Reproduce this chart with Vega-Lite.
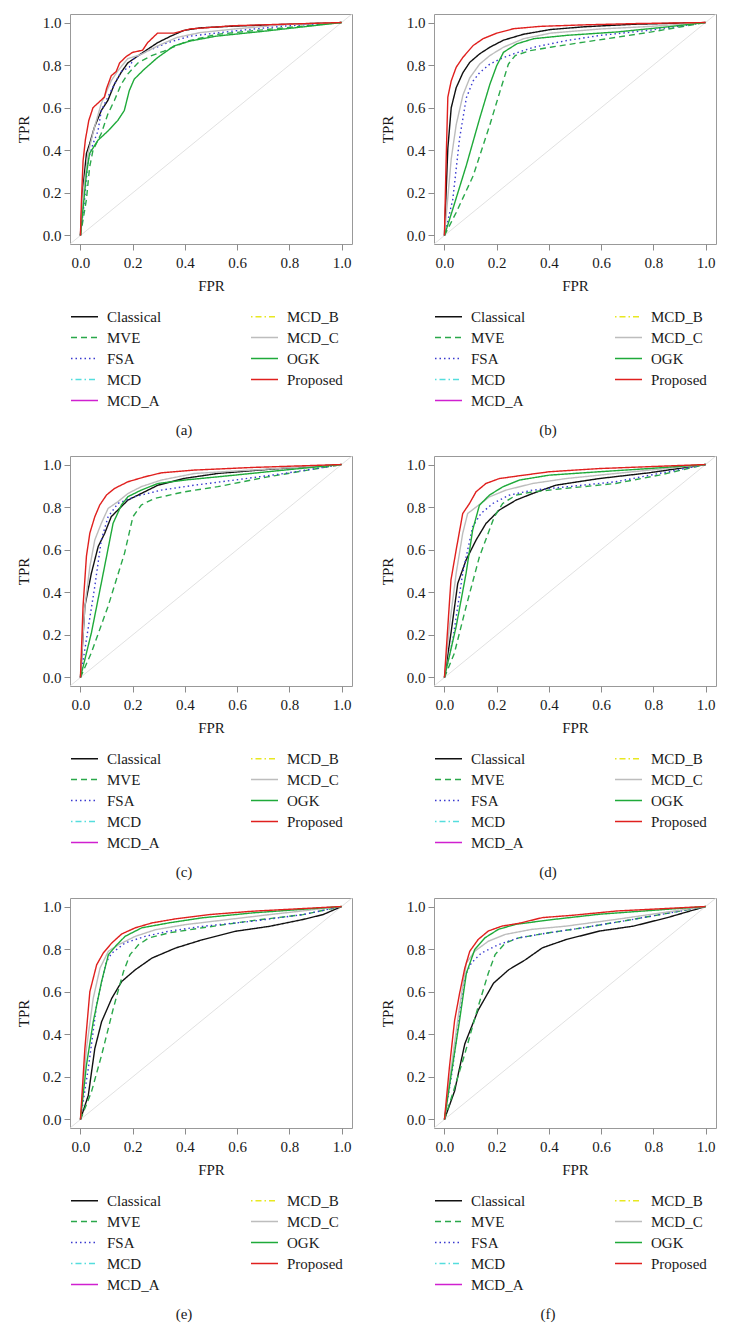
{
"$schema": "https://vega.github.io/schema/vega-lite/v6.json",
"padding": {"left": 15, "top": 13, "right": 5, "bottom": 5},
"background": "white",
"datasets": {
"diag": [{"fpr": -0.1, "tpr": -0.1}, {"fpr": 1.1, "tpr": 1.1}],
"a": [
{"method":"Classical","fpr":0,"tpr":0},{"method":"Classical","fpr":0.008,"tpr":0.2},{"method":"Classical","fpr":0.023,"tpr":0.385},{"method":"Classical","fpr":0.035,"tpr":0.43},{"method":"Classical","fpr":0.054,"tpr":0.51},{"method":"Classical","fpr":0.08,"tpr":0.587},{"method":"Classical","fpr":0.105,"tpr":0.634},{"method":"Classical","fpr":0.13,"tpr":0.71},{"method":"Classical","fpr":0.156,"tpr":0.766},{"method":"Classical","fpr":0.181,"tpr":0.81},{"method":"Classical","fpr":0.22,"tpr":0.843},{"method":"Classical","fpr":0.257,"tpr":0.874},{"method":"Classical","fpr":0.295,"tpr":0.905},{"method":"Classical","fpr":0.346,"tpr":0.936},{"method":"Classical","fpr":0.396,"tpr":0.963},{"method":"Classical","fpr":0.46,"tpr":0.975},{"method":"Classical","fpr":0.586,"tpr":0.983},{"method":"Classical","fpr":0.8,"tpr":0.992},{"method":"Classical","fpr":1,"tpr":1},
{"method":"MVE","fpr":0,"tpr":0},{"method":"MVE","fpr":0.023,"tpr":0.17},{"method":"MVE","fpr":0.035,"tpr":0.32},{"method":"MVE","fpr":0.048,"tpr":0.4},{"method":"MVE","fpr":0.08,"tpr":0.48},{"method":"MVE","fpr":0.105,"tpr":0.57},{"method":"MVE","fpr":0.13,"tpr":0.634},{"method":"MVE","fpr":0.156,"tpr":0.71},{"method":"MVE","fpr":0.181,"tpr":0.758},{"method":"MVE","fpr":0.22,"tpr":0.81},{"method":"MVE","fpr":0.27,"tpr":0.843},{"method":"MVE","fpr":0.32,"tpr":0.866},{"method":"MVE","fpr":0.41,"tpr":0.913},{"method":"MVE","fpr":0.52,"tpr":0.944},{"method":"MVE","fpr":0.71,"tpr":0.967},{"method":"MVE","fpr":1,"tpr":1},
{"method":"FSA","fpr":0,"tpr":0},{"method":"FSA","fpr":0.016,"tpr":0.17},{"method":"FSA","fpr":0.029,"tpr":0.354},{"method":"FSA","fpr":0.048,"tpr":0.43},{"method":"FSA","fpr":0.067,"tpr":0.49},{"method":"FSA","fpr":0.08,"tpr":0.587},{"method":"FSA","fpr":0.105,"tpr":0.65},{"method":"FSA","fpr":0.13,"tpr":0.71},{"method":"FSA","fpr":0.156,"tpr":0.77},{"method":"FSA","fpr":0.187,"tpr":0.79},{"method":"FSA","fpr":0.206,"tpr":0.835},{"method":"FSA","fpr":0.257,"tpr":0.866},{"method":"FSA","fpr":0.333,"tpr":0.905},{"method":"FSA","fpr":0.42,"tpr":0.936},{"method":"FSA","fpr":0.586,"tpr":0.96},{"method":"FSA","fpr":0.776,"tpr":0.983},{"method":"FSA","fpr":1,"tpr":1},
{"method":"MCD_C","fpr":0,"tpr":0},{"method":"MCD_C","fpr":0.01,"tpr":0.2},{"method":"MCD_C","fpr":0.029,"tpr":0.385},{"method":"MCD_C","fpr":0.054,"tpr":0.51},{"method":"MCD_C","fpr":0.08,"tpr":0.62},{"method":"MCD_C","fpr":0.118,"tpr":0.727},{"method":"MCD_C","fpr":0.143,"tpr":0.773},{"method":"MCD_C","fpr":0.181,"tpr":0.83},{"method":"MCD_C","fpr":0.232,"tpr":0.85},{"method":"MCD_C","fpr":0.295,"tpr":0.89},{"method":"MCD_C","fpr":0.37,"tpr":0.93},{"method":"MCD_C","fpr":0.46,"tpr":0.953},{"method":"MCD_C","fpr":0.586,"tpr":0.969},{"method":"MCD_C","fpr":0.776,"tpr":0.99},{"method":"MCD_C","fpr":1,"tpr":1},
{"method":"OGK","fpr":0,"tpr":0},{"method":"OGK","fpr":0.023,"tpr":0.29},{"method":"OGK","fpr":0.035,"tpr":0.385},{"method":"OGK","fpr":0.067,"tpr":0.447},{"method":"OGK","fpr":0.105,"tpr":0.49},{"method":"OGK","fpr":0.143,"tpr":0.54},{"method":"OGK","fpr":0.168,"tpr":0.587},{"method":"OGK","fpr":0.187,"tpr":0.68},{"method":"OGK","fpr":0.206,"tpr":0.734},{"method":"OGK","fpr":0.244,"tpr":0.78},{"method":"OGK","fpr":0.295,"tpr":0.835},{"method":"OGK","fpr":0.358,"tpr":0.89},{"method":"OGK","fpr":0.42,"tpr":0.913},{"method":"OGK","fpr":0.52,"tpr":0.936},{"method":"OGK","fpr":0.71,"tpr":0.96},{"method":"OGK","fpr":1,"tpr":1},
{"method":"Proposed","fpr":0,"tpr":0},{"method":"Proposed","fpr":0.004,"tpr":0.17},{"method":"Proposed","fpr":0.01,"tpr":0.35},{"method":"Proposed","fpr":0.019,"tpr":0.45},{"method":"Proposed","fpr":0.032,"tpr":0.54},{"method":"Proposed","fpr":0.048,"tpr":0.6},{"method":"Proposed","fpr":0.092,"tpr":0.65},{"method":"Proposed","fpr":0.1,"tpr":0.69},{"method":"Proposed","fpr":0.118,"tpr":0.75},{"method":"Proposed","fpr":0.137,"tpr":0.77},{"method":"Proposed","fpr":0.15,"tpr":0.81},{"method":"Proposed","fpr":0.175,"tpr":0.84},{"method":"Proposed","fpr":0.2,"tpr":0.86},{"method":"Proposed","fpr":0.238,"tpr":0.87},{"method":"Proposed","fpr":0.257,"tpr":0.905},{"method":"Proposed","fpr":0.295,"tpr":0.95},{"method":"Proposed","fpr":0.358,"tpr":0.95},{"method":"Proposed","fpr":0.42,"tpr":0.97},{"method":"Proposed","fpr":0.586,"tpr":0.985},{"method":"Proposed","fpr":1,"tpr":1}
],
"b": [
{"method":"Classical","fpr":0,"tpr":0},{"method":"Classical","fpr":0.013,"tpr":0.41},{"method":"Classical","fpr":0.026,"tpr":0.6},{"method":"Classical","fpr":0.045,"tpr":0.694},{"method":"Classical","fpr":0.071,"tpr":0.765},{"method":"Classical","fpr":0.097,"tpr":0.813},{"method":"Classical","fpr":0.135,"tpr":0.853},{"method":"Classical","fpr":0.174,"tpr":0.884},{"method":"Classical","fpr":0.226,"tpr":0.917},{"method":"Classical","fpr":0.303,"tpr":0.945},{"method":"Classical","fpr":0.406,"tpr":0.967},{"method":"Classical","fpr":0.535,"tpr":0.98},{"method":"Classical","fpr":0.729,"tpr":0.992},{"method":"Classical","fpr":1,"tpr":1},
{"method":"MVE","fpr":0,"tpr":0},{"method":"MVE","fpr":0.045,"tpr":0.108},{"method":"MVE","fpr":0.11,"tpr":0.28},{"method":"MVE","fpr":0.174,"tpr":0.52},{"method":"MVE","fpr":0.213,"tpr":0.678},{"method":"MVE","fpr":0.245,"tpr":0.805},{"method":"MVE","fpr":0.271,"tpr":0.845},{"method":"MVE","fpr":0.329,"tpr":0.868},{"method":"MVE","fpr":0.406,"tpr":0.884},{"method":"MVE","fpr":0.535,"tpr":0.908},{"method":"MVE","fpr":0.665,"tpr":0.932},{"method":"MVE","fpr":0.794,"tpr":0.956},{"method":"MVE","fpr":1,"tpr":1},
{"method":"FSA","fpr":0,"tpr":0},{"method":"FSA","fpr":0.032,"tpr":0.17},{"method":"FSA","fpr":0.058,"tpr":0.456},{"method":"FSA","fpr":0.084,"tpr":0.647},{"method":"FSA","fpr":0.11,"tpr":0.726},{"method":"FSA","fpr":0.135,"tpr":0.765},{"method":"FSA","fpr":0.174,"tpr":0.805},{"method":"FSA","fpr":0.213,"tpr":0.829},{"method":"FSA","fpr":0.265,"tpr":0.853},{"method":"FSA","fpr":0.342,"tpr":0.884},{"method":"FSA","fpr":0.471,"tpr":0.916},{"method":"FSA","fpr":0.6,"tpr":0.94},{"method":"FSA","fpr":0.794,"tpr":0.965},{"method":"FSA","fpr":1,"tpr":1},
{"method":"MCD_C","fpr":0,"tpr":0},{"method":"MCD_C","fpr":0.026,"tpr":0.36},{"method":"MCD_C","fpr":0.045,"tpr":0.52},{"method":"MCD_C","fpr":0.071,"tpr":0.66},{"method":"MCD_C","fpr":0.097,"tpr":0.74},{"method":"MCD_C","fpr":0.135,"tpr":0.805},{"method":"MCD_C","fpr":0.174,"tpr":0.845},{"method":"MCD_C","fpr":0.226,"tpr":0.884},{"method":"MCD_C","fpr":0.303,"tpr":0.924},{"method":"MCD_C","fpr":0.406,"tpr":0.95},{"method":"MCD_C","fpr":0.6,"tpr":0.97},{"method":"MCD_C","fpr":0.794,"tpr":0.982},{"method":"MCD_C","fpr":1,"tpr":1},
{"method":"OGK","fpr":0,"tpr":0},{"method":"OGK","fpr":0.032,"tpr":0.124},{"method":"OGK","fpr":0.084,"tpr":0.33},{"method":"OGK","fpr":0.135,"tpr":0.55},{"method":"OGK","fpr":0.174,"tpr":0.71},{"method":"OGK","fpr":0.2,"tpr":0.797},{"method":"OGK","fpr":0.226,"tpr":0.86},{"method":"OGK","fpr":0.277,"tpr":0.9},{"method":"OGK","fpr":0.342,"tpr":0.924},{"method":"OGK","fpr":0.471,"tpr":0.94},{"method":"OGK","fpr":0.665,"tpr":0.956},{"method":"OGK","fpr":0.858,"tpr":0.98},{"method":"OGK","fpr":1,"tpr":1},
{"method":"Proposed","fpr":0,"tpr":0},{"method":"Proposed","fpr":0.006,"tpr":0.33},{"method":"Proposed","fpr":0.013,"tpr":0.65},{"method":"Proposed","fpr":0.026,"tpr":0.726},{"method":"Proposed","fpr":0.045,"tpr":0.79},{"method":"Proposed","fpr":0.071,"tpr":0.837},{"method":"Proposed","fpr":0.11,"tpr":0.892},{"method":"Proposed","fpr":0.148,"tpr":0.924},{"method":"Proposed","fpr":0.2,"tpr":0.95},{"method":"Proposed","fpr":0.265,"tpr":0.971},{"method":"Proposed","fpr":0.368,"tpr":0.982},{"method":"Proposed","fpr":0.535,"tpr":0.989},{"method":"Proposed","fpr":0.729,"tpr":0.995},{"method":"Proposed","fpr":1,"tpr":1}
],
"c": [
{"method":"Classical","fpr":0,"tpr":0},{"method":"Classical","fpr":0.017,"tpr":0.335},{"method":"Classical","fpr":0.042,"tpr":0.49},{"method":"Classical","fpr":0.068,"tpr":0.615},{"method":"Classical","fpr":0.093,"tpr":0.677},{"method":"Classical","fpr":0.118,"tpr":0.755},{"method":"Classical","fpr":0.144,"tpr":0.787},{"method":"Classical","fpr":0.182,"tpr":0.833},{"method":"Classical","fpr":0.233,"tpr":0.864},{"method":"Classical","fpr":0.297,"tpr":0.903},{"method":"Classical","fpr":0.399,"tpr":0.935},{"method":"Classical","fpr":0.526,"tpr":0.958},{"method":"Classical","fpr":0.717,"tpr":0.977},{"method":"Classical","fpr":1,"tpr":1},
{"method":"MVE","fpr":0,"tpr":0},{"method":"MVE","fpr":0.042,"tpr":0.117},{"method":"MVE","fpr":0.106,"tpr":0.335},{"method":"MVE","fpr":0.169,"tpr":0.584},{"method":"MVE","fpr":0.201,"tpr":0.755},{"method":"MVE","fpr":0.233,"tpr":0.81},{"method":"MVE","fpr":0.284,"tpr":0.841},{"method":"MVE","fpr":0.399,"tpr":0.872},{"method":"MVE","fpr":0.526,"tpr":0.896},{"method":"MVE","fpr":0.717,"tpr":0.942},{"method":"MVE","fpr":1,"tpr":1},
{"method":"FSA","fpr":0,"tpr":0},{"method":"FSA","fpr":0.023,"tpr":0.18},{"method":"FSA","fpr":0.055,"tpr":0.428},{"method":"FSA","fpr":0.08,"tpr":0.646},{"method":"FSA","fpr":0.106,"tpr":0.755},{"method":"FSA","fpr":0.144,"tpr":0.818},{"method":"FSA","fpr":0.208,"tpr":0.849},{"method":"FSA","fpr":0.31,"tpr":0.88},{"method":"FSA","fpr":0.437,"tpr":0.903},{"method":"FSA","fpr":0.59,"tpr":0.927},{"method":"FSA","fpr":0.781,"tpr":0.958},{"method":"FSA","fpr":1,"tpr":1},
{"method":"MCD_C","fpr":0,"tpr":0},{"method":"MCD_C","fpr":0.017,"tpr":0.335},{"method":"MCD_C","fpr":0.036,"tpr":0.52},{"method":"MCD_C","fpr":0.055,"tpr":0.646},{"method":"MCD_C","fpr":0.08,"tpr":0.724},{"method":"MCD_C","fpr":0.106,"tpr":0.794},{"method":"MCD_C","fpr":0.144,"tpr":0.826},{"method":"MCD_C","fpr":0.182,"tpr":0.864},{"method":"MCD_C","fpr":0.233,"tpr":0.896},{"method":"MCD_C","fpr":0.31,"tpr":0.927},{"method":"MCD_C","fpr":0.437,"tpr":0.958},{"method":"MCD_C","fpr":0.654,"tpr":0.974},{"method":"MCD_C","fpr":1,"tpr":1},
{"method":"OGK","fpr":0,"tpr":0},{"method":"OGK","fpr":0.042,"tpr":0.21},{"method":"OGK","fpr":0.08,"tpr":0.444},{"method":"OGK","fpr":0.125,"tpr":0.724},{"method":"OGK","fpr":0.157,"tpr":0.81},{"method":"OGK","fpr":0.182,"tpr":0.849},{"method":"OGK","fpr":0.233,"tpr":0.88},{"method":"OGK","fpr":0.297,"tpr":0.911},{"method":"OGK","fpr":0.399,"tpr":0.927},{"method":"OGK","fpr":0.59,"tpr":0.95},{"method":"OGK","fpr":0.781,"tpr":0.974},{"method":"OGK","fpr":1,"tpr":1},
{"method":"Proposed","fpr":0,"tpr":0},{"method":"Proposed","fpr":0.01,"tpr":0.335},{"method":"Proposed","fpr":0.023,"tpr":0.57},{"method":"Proposed","fpr":0.036,"tpr":0.678},{"method":"Proposed","fpr":0.055,"tpr":0.755},{"method":"Proposed","fpr":0.074,"tpr":0.81},{"method":"Proposed","fpr":0.1,"tpr":0.857},{"method":"Proposed","fpr":0.131,"tpr":0.888},{"method":"Proposed","fpr":0.182,"tpr":0.919},{"method":"Proposed","fpr":0.246,"tpr":0.942},{"method":"Proposed","fpr":0.31,"tpr":0.961},{"method":"Proposed","fpr":0.437,"tpr":0.974},{"method":"Proposed","fpr":0.654,"tpr":0.986},{"method":"Proposed","fpr":1,"tpr":1}
],
"d": [
{"method":"Classical","fpr":0,"tpr":0},{"method":"Classical","fpr":0.025,"tpr":0.208},{"method":"Classical","fpr":0.051,"tpr":0.442},{"method":"Classical","fpr":0.083,"tpr":0.552},{"method":"Classical","fpr":0.121,"tpr":0.645},{"method":"Classical","fpr":0.159,"tpr":0.723},{"method":"Classical","fpr":0.21,"tpr":0.786},{"method":"Classical","fpr":0.274,"tpr":0.833},{"method":"Classical","fpr":0.338,"tpr":0.864},{"method":"Classical","fpr":0.427,"tpr":0.903},{"method":"Classical","fpr":0.592,"tpr":0.934},{"method":"Classical","fpr":0.783,"tpr":0.961},{"method":"Classical","fpr":1,"tpr":1},
{"method":"MVE","fpr":0,"tpr":0},{"method":"MVE","fpr":0.038,"tpr":0.114},{"method":"MVE","fpr":0.083,"tpr":0.333},{"method":"MVE","fpr":0.134,"tpr":0.567},{"method":"MVE","fpr":0.191,"tpr":0.755},{"method":"MVE","fpr":0.223,"tpr":0.817},{"method":"MVE","fpr":0.274,"tpr":0.856},{"method":"MVE","fpr":0.338,"tpr":0.872},{"method":"MVE","fpr":0.465,"tpr":0.888},{"method":"MVE","fpr":0.656,"tpr":0.911},{"method":"MVE","fpr":0.822,"tpr":0.95},{"method":"MVE","fpr":1,"tpr":1},
{"method":"FSA","fpr":0,"tpr":0},{"method":"FSA","fpr":0.032,"tpr":0.177},{"method":"FSA","fpr":0.07,"tpr":0.49},{"method":"FSA","fpr":0.108,"tpr":0.708},{"method":"FSA","fpr":0.14,"tpr":0.77},{"method":"FSA","fpr":0.185,"tpr":0.817},{"method":"FSA","fpr":0.248,"tpr":0.856},{"method":"FSA","fpr":0.338,"tpr":0.88},{"method":"FSA","fpr":0.465,"tpr":0.895},{"method":"FSA","fpr":0.656,"tpr":0.919},{"method":"FSA","fpr":0.822,"tpr":0.958},{"method":"FSA","fpr":1,"tpr":1},
{"method":"MCD_C","fpr":0,"tpr":0},{"method":"MCD_C","fpr":0.019,"tpr":0.24},{"method":"MCD_C","fpr":0.045,"tpr":0.49},{"method":"MCD_C","fpr":0.07,"tpr":0.677},{"method":"MCD_C","fpr":0.089,"tpr":0.77},{"method":"MCD_C","fpr":0.121,"tpr":0.8},{"method":"MCD_C","fpr":0.172,"tpr":0.848},{"method":"MCD_C","fpr":0.236,"tpr":0.88},{"method":"MCD_C","fpr":0.338,"tpr":0.911},{"method":"MCD_C","fpr":0.465,"tpr":0.934},{"method":"MCD_C","fpr":0.656,"tpr":0.958},{"method":"MCD_C","fpr":1,"tpr":1},
{"method":"OGK","fpr":0,"tpr":0},{"method":"OGK","fpr":0.045,"tpr":0.24},{"method":"OGK","fpr":0.083,"tpr":0.49},{"method":"OGK","fpr":0.108,"tpr":0.692},{"method":"OGK","fpr":0.134,"tpr":0.809},{"method":"OGK","fpr":0.172,"tpr":0.856},{"method":"OGK","fpr":0.223,"tpr":0.895},{"method":"OGK","fpr":0.287,"tpr":0.927},{"method":"OGK","fpr":0.401,"tpr":0.95},{"method":"OGK","fpr":0.592,"tpr":0.966},{"method":"OGK","fpr":0.783,"tpr":0.981},{"method":"OGK","fpr":1,"tpr":1},
{"method":"Proposed","fpr":0,"tpr":0},{"method":"Proposed","fpr":0.013,"tpr":0.24},{"method":"Proposed","fpr":0.025,"tpr":0.458},{"method":"Proposed","fpr":0.045,"tpr":0.6},{"method":"Proposed","fpr":0.07,"tpr":0.77},{"method":"Proposed","fpr":0.096,"tpr":0.817},{"method":"Proposed","fpr":0.121,"tpr":0.872},{"method":"Proposed","fpr":0.159,"tpr":0.911},{"method":"Proposed","fpr":0.21,"tpr":0.934},{"method":"Proposed","fpr":0.274,"tpr":0.945},{"method":"Proposed","fpr":0.401,"tpr":0.966},{"method":"Proposed","fpr":0.592,"tpr":0.981},{"method":"Proposed","fpr":1,"tpr":1}
],
"e": [
{"method":"Classical","fpr":0,"tpr":0},{"method":"Classical","fpr":0.03,"tpr":0.113},{"method":"Classical","fpr":0.055,"tpr":0.333},{"method":"Classical","fpr":0.081,"tpr":0.459},{"method":"Classical","fpr":0.12,"tpr":0.569},{"method":"Classical","fpr":0.158,"tpr":0.648},{"method":"Classical","fpr":0.21,"tpr":0.703},{"method":"Classical","fpr":0.274,"tpr":0.758},{"method":"Classical","fpr":0.364,"tpr":0.805},{"method":"Classical","fpr":0.467,"tpr":0.844},{"method":"Classical","fpr":0.595,"tpr":0.884},{"method":"Classical","fpr":0.724,"tpr":0.907},{"method":"Classical","fpr":0.852,"tpr":0.939},{"method":"Classical","fpr":0.929,"tpr":0.962},{"method":"Classical","fpr":1,"tpr":1},
{"method":"MVE","fpr":0,"tpr":0},{"method":"MVE","fpr":0.042,"tpr":0.129},{"method":"MVE","fpr":0.081,"tpr":0.302},{"method":"MVE","fpr":0.126,"tpr":0.522},{"method":"MVE","fpr":0.165,"tpr":0.695},{"method":"MVE","fpr":0.19,"tpr":0.774},{"method":"MVE","fpr":0.222,"tpr":0.82},{"method":"MVE","fpr":0.261,"tpr":0.852},{"method":"MVE","fpr":0.338,"tpr":0.876},{"method":"MVE","fpr":0.467,"tpr":0.9},{"method":"MVE","fpr":0.659,"tpr":0.934},{"method":"MVE","fpr":0.852,"tpr":0.962},{"method":"MVE","fpr":1,"tpr":1},
{"method":"FSA","fpr":0,"tpr":0},{"method":"FSA","fpr":0.03,"tpr":0.239},{"method":"FSA","fpr":0.062,"tpr":0.538},{"method":"FSA","fpr":0.081,"tpr":0.648},{"method":"FSA","fpr":0.1,"tpr":0.742},{"method":"FSA","fpr":0.12,"tpr":0.781},{"method":"FSA","fpr":0.171,"tpr":0.829},{"method":"FSA","fpr":0.248,"tpr":0.86},{"method":"FSA","fpr":0.338,"tpr":0.884},{"method":"FSA","fpr":0.467,"tpr":0.907},{"method":"FSA","fpr":0.659,"tpr":0.931},{"method":"FSA","fpr":0.852,"tpr":0.962},{"method":"FSA","fpr":1,"tpr":1},
{"method":"MCD_C","fpr":0,"tpr":0},{"method":"MCD_C","fpr":0.023,"tpr":0.333},{"method":"MCD_C","fpr":0.049,"tpr":0.569},{"method":"MCD_C","fpr":0.075,"tpr":0.711},{"method":"MCD_C","fpr":0.107,"tpr":0.79},{"method":"MCD_C","fpr":0.145,"tpr":0.82},{"method":"MCD_C","fpr":0.21,"tpr":0.86},{"method":"MCD_C","fpr":0.287,"tpr":0.891},{"method":"MCD_C","fpr":0.402,"tpr":0.915},{"method":"MCD_C","fpr":0.531,"tpr":0.934},{"method":"MCD_C","fpr":0.724,"tpr":0.962},{"method":"MCD_C","fpr":1,"tpr":1},
{"method":"OGK","fpr":0,"tpr":0},{"method":"OGK","fpr":0.023,"tpr":0.255},{"method":"OGK","fpr":0.049,"tpr":0.459},{"method":"OGK","fpr":0.081,"tpr":0.648},{"method":"OGK","fpr":0.107,"tpr":0.774},{"method":"OGK","fpr":0.139,"tpr":0.82},{"method":"OGK","fpr":0.171,"tpr":0.86},{"method":"OGK","fpr":0.235,"tpr":0.9},{"method":"OGK","fpr":0.338,"tpr":0.923},{"method":"OGK","fpr":0.467,"tpr":0.947},{"method":"OGK","fpr":0.659,"tpr":0.97},{"method":"OGK","fpr":1,"tpr":1},
{"method":"Proposed","fpr":0,"tpr":0},{"method":"Proposed","fpr":0.017,"tpr":0.333},{"method":"Proposed","fpr":0.036,"tpr":0.6},{"method":"Proposed","fpr":0.062,"tpr":0.726},{"method":"Proposed","fpr":0.087,"tpr":0.781},{"method":"Proposed","fpr":0.12,"tpr":0.829},{"method":"Proposed","fpr":0.158,"tpr":0.871},{"method":"Proposed","fpr":0.21,"tpr":0.9},{"method":"Proposed","fpr":0.274,"tpr":0.923},{"method":"Proposed","fpr":0.364,"tpr":0.942},{"method":"Proposed","fpr":0.492,"tpr":0.962},{"method":"Proposed","fpr":0.659,"tpr":0.978},{"method":"Proposed","fpr":1,"tpr":1}
],
"f": [
{"method":"Classical","fpr":0,"tpr":0},{"method":"Classical","fpr":0.039,"tpr":0.134},{"method":"Classical","fpr":0.078,"tpr":0.355},{"method":"Classical","fpr":0.129,"tpr":0.513},{"method":"Classical","fpr":0.188,"tpr":0.64},{"method":"Classical","fpr":0.246,"tpr":0.703},{"method":"Classical","fpr":0.31,"tpr":0.75},{"method":"Classical","fpr":0.375,"tpr":0.806},{"method":"Classical","fpr":0.466,"tpr":0.845},{"method":"Classical","fpr":0.595,"tpr":0.885},{"method":"Classical","fpr":0.724,"tpr":0.908},{"method":"Classical","fpr":0.854,"tpr":0.948},{"method":"Classical","fpr":1,"tpr":1},
{"method":"MVE","fpr":0,"tpr":0},{"method":"MVE","fpr":0.039,"tpr":0.15},{"method":"MVE","fpr":0.078,"tpr":0.308},{"method":"MVE","fpr":0.129,"tpr":0.529},{"method":"MVE","fpr":0.168,"tpr":0.687},{"method":"MVE","fpr":0.194,"tpr":0.774},{"method":"MVE","fpr":0.233,"tpr":0.829},{"method":"MVE","fpr":0.285,"tpr":0.853},{"method":"MVE","fpr":0.401,"tpr":0.877},{"method":"MVE","fpr":0.53,"tpr":0.9},{"method":"MVE","fpr":0.724,"tpr":0.94},{"method":"MVE","fpr":1,"tpr":1},
{"method":"FSA","fpr":0,"tpr":0},{"method":"FSA","fpr":0.032,"tpr":0.245},{"method":"FSA","fpr":0.058,"tpr":0.498},{"method":"FSA","fpr":0.078,"tpr":0.671},{"method":"FSA","fpr":0.103,"tpr":0.735},{"method":"FSA","fpr":0.142,"tpr":0.782},{"method":"FSA","fpr":0.207,"tpr":0.821},{"method":"FSA","fpr":0.285,"tpr":0.853},{"method":"FSA","fpr":0.401,"tpr":0.877},{"method":"FSA","fpr":0.53,"tpr":0.9},{"method":"FSA","fpr":0.724,"tpr":0.94},{"method":"FSA","fpr":1,"tpr":1},
{"method":"MCD_C","fpr":0,"tpr":0},{"method":"MCD_C","fpr":0.026,"tpr":0.245},{"method":"MCD_C","fpr":0.058,"tpr":0.529},{"method":"MCD_C","fpr":0.084,"tpr":0.735},{"method":"MCD_C","fpr":0.116,"tpr":0.79},{"method":"MCD_C","fpr":0.168,"tpr":0.837},{"method":"MCD_C","fpr":0.233,"tpr":0.869},{"method":"MCD_C","fpr":0.336,"tpr":0.893},{"method":"MCD_C","fpr":0.466,"tpr":0.908},{"method":"MCD_C","fpr":0.66,"tpr":0.94},{"method":"MCD_C","fpr":1,"tpr":1},
{"method":"OGK","fpr":0,"tpr":0},{"method":"OGK","fpr":0.026,"tpr":0.213},{"method":"OGK","fpr":0.058,"tpr":0.466},{"method":"OGK","fpr":0.084,"tpr":0.687},{"method":"OGK","fpr":0.116,"tpr":0.798},{"method":"OGK","fpr":0.155,"tpr":0.853},{"method":"OGK","fpr":0.207,"tpr":0.893},{"method":"OGK","fpr":0.272,"tpr":0.916},{"method":"OGK","fpr":0.401,"tpr":0.937},{"method":"OGK","fpr":0.595,"tpr":0.964},{"method":"OGK","fpr":1,"tpr":1},
{"method":"Proposed","fpr":0,"tpr":0},{"method":"Proposed","fpr":0.019,"tpr":0.245},{"method":"Proposed","fpr":0.039,"tpr":0.466},{"method":"Proposed","fpr":0.058,"tpr":0.592},{"method":"Proposed","fpr":0.078,"tpr":0.711},{"method":"Proposed","fpr":0.097,"tpr":0.79},{"method":"Proposed","fpr":0.129,"tpr":0.845},{"method":"Proposed","fpr":0.168,"tpr":0.885},{"method":"Proposed","fpr":0.22,"tpr":0.908},{"method":"Proposed","fpr":0.285,"tpr":0.921},{"method":"Proposed","fpr":0.375,"tpr":0.948},{"method":"Proposed","fpr":0.492,"tpr":0.959},{"method":"Proposed","fpr":0.66,"tpr":0.979},{"method":"Proposed","fpr":1,"tpr":1}
]
},
"columns": 2,
"spacing": {"row": 16, "column": 26},
"resolve": {"scale": {"color": "independent", "strokeDash": "independent"}, "legend": {"color": "independent", "strokeDash": "independent"}},
"concat": [
{"width": 282, "height": 230, "title": {"text": "(a)"},
 "encoding": {"x": {"field": "fpr", "type": "quantitative", "scale": {"domain": [-0.04, 1.04], "nice": false, "zero": false}, "axis": {"values": [0, 0.2, 0.4, 0.6, 0.8, 1], "format": ".1f", "title": "FPR"}}, "y": {"field": "tpr", "type": "quantitative", "scale": {"domain": [-0.04, 1.04], "nice": false, "zero": false}, "axis": {"values": [0, 0.2, 0.4, 0.6, 0.8, 1], "format": ".1f", "title": "TPR"}}},
 "layer": [
  {"data": {"name": "diag"}, "mark": {"type": "line", "color": "#d9d9d9", "strokeWidth": 0.8, "clip": true}},
  {"data": {"name": "a"}, "mark": {"type": "line", "strokeWidth": 1.4, "clip": true},
   "encoding": {
    "color": {"field": "method", "type": "nominal", "scale": {"domain": ["Classical","MVE","FSA","MCD","MCD_A","MCD_B","MCD_C","OGK","Proposed"], "range": ["#111111","#2aa84a","#3a3ad0","#55dddd","#d020d0","#e8e820","#bdbdbd","#1faa3a","#e0201e"]}, "legend": {"title": null, "orient": "none", "legendX": 6, "legendY": 294}},
    "strokeDash": {"field": "method", "type": "nominal", "scale": {"domain": ["Classical","MVE","FSA","MCD","MCD_A","MCD_B","MCD_C","OGK","Proposed"], "range": [[1,0],[6,4],[1.5,3],[1.5,3,6,3],[1,0],[1.5,3,6,3],[1,0],[1,0],[1,0]]}, "legend": {"title": null, "orient": "none", "legendX": 6, "legendY": 294}},
    "order": [{"field": "fpr"}, {"field": "tpr"}]}}
 ]},
{"width": 282, "height": 230, "title": {"text": "(b)"},
 "encoding": {"x": {"field": "fpr", "type": "quantitative", "scale": {"domain": [-0.04, 1.04], "nice": false, "zero": false}, "axis": {"values": [0, 0.2, 0.4, 0.6, 0.8, 1], "format": ".1f", "title": "FPR"}}, "y": {"field": "tpr", "type": "quantitative", "scale": {"domain": [-0.04, 1.04], "nice": false, "zero": false}, "axis": {"values": [0, 0.2, 0.4, 0.6, 0.8, 1], "format": ".1f", "title": "TPR"}}},
 "layer": [
  {"data": {"name": "diag"}, "mark": {"type": "line", "color": "#d9d9d9", "strokeWidth": 0.8, "clip": true}},
  {"data": {"name": "b"}, "mark": {"type": "line", "strokeWidth": 1.4, "clip": true},
   "encoding": {
    "color": {"field": "method", "type": "nominal", "scale": {"domain": ["Classical","MVE","FSA","MCD","MCD_A","MCD_B","MCD_C","OGK","Proposed"], "range": ["#111111","#2aa84a","#3a3ad0","#55dddd","#d020d0","#e8e820","#bdbdbd","#1faa3a","#e0201e"]}, "legend": {"title": null, "orient": "none", "legendX": 6, "legendY": 294}},
    "strokeDash": {"field": "method", "type": "nominal", "scale": {"domain": ["Classical","MVE","FSA","MCD","MCD_A","MCD_B","MCD_C","OGK","Proposed"], "range": [[1,0],[6,4],[1.5,3],[1.5,3,6,3],[1,0],[1.5,3,6,3],[1,0],[1,0],[1,0]]}, "legend": {"title": null, "orient": "none", "legendX": 6, "legendY": 294}},
    "order": [{"field": "fpr"}, {"field": "tpr"}]}}
 ]},
{"width": 282, "height": 230, "title": {"text": "(c)"},
 "encoding": {"x": {"field": "fpr", "type": "quantitative", "scale": {"domain": [-0.04, 1.04], "nice": false, "zero": false}, "axis": {"values": [0, 0.2, 0.4, 0.6, 0.8, 1], "format": ".1f", "title": "FPR"}}, "y": {"field": "tpr", "type": "quantitative", "scale": {"domain": [-0.04, 1.04], "nice": false, "zero": false}, "axis": {"values": [0, 0.2, 0.4, 0.6, 0.8, 1], "format": ".1f", "title": "TPR"}}},
 "layer": [
  {"data": {"name": "diag"}, "mark": {"type": "line", "color": "#d9d9d9", "strokeWidth": 0.8, "clip": true}},
  {"data": {"name": "c"}, "mark": {"type": "line", "strokeWidth": 1.4, "clip": true},
   "encoding": {
    "color": {"field": "method", "type": "nominal", "scale": {"domain": ["Classical","MVE","FSA","MCD","MCD_A","MCD_B","MCD_C","OGK","Proposed"], "range": ["#111111","#2aa84a","#3a3ad0","#55dddd","#d020d0","#e8e820","#bdbdbd","#1faa3a","#e0201e"]}, "legend": {"title": null, "orient": "none", "legendX": 6, "legendY": 294}},
    "strokeDash": {"field": "method", "type": "nominal", "scale": {"domain": ["Classical","MVE","FSA","MCD","MCD_A","MCD_B","MCD_C","OGK","Proposed"], "range": [[1,0],[6,4],[1.5,3],[1.5,3,6,3],[1,0],[1.5,3,6,3],[1,0],[1,0],[1,0]]}, "legend": {"title": null, "orient": "none", "legendX": 6, "legendY": 294}},
    "order": [{"field": "fpr"}, {"field": "tpr"}]}}
 ]},
{"width": 282, "height": 230, "title": {"text": "(d)"},
 "encoding": {"x": {"field": "fpr", "type": "quantitative", "scale": {"domain": [-0.04, 1.04], "nice": false, "zero": false}, "axis": {"values": [0, 0.2, 0.4, 0.6, 0.8, 1], "format": ".1f", "title": "FPR"}}, "y": {"field": "tpr", "type": "quantitative", "scale": {"domain": [-0.04, 1.04], "nice": false, "zero": false}, "axis": {"values": [0, 0.2, 0.4, 0.6, 0.8, 1], "format": ".1f", "title": "TPR"}}},
 "layer": [
  {"data": {"name": "diag"}, "mark": {"type": "line", "color": "#d9d9d9", "strokeWidth": 0.8, "clip": true}},
  {"data": {"name": "d"}, "mark": {"type": "line", "strokeWidth": 1.4, "clip": true},
   "encoding": {
    "color": {"field": "method", "type": "nominal", "scale": {"domain": ["Classical","MVE","FSA","MCD","MCD_A","MCD_B","MCD_C","OGK","Proposed"], "range": ["#111111","#2aa84a","#3a3ad0","#55dddd","#d020d0","#e8e820","#bdbdbd","#1faa3a","#e0201e"]}, "legend": {"title": null, "orient": "none", "legendX": 6, "legendY": 294}},
    "strokeDash": {"field": "method", "type": "nominal", "scale": {"domain": ["Classical","MVE","FSA","MCD","MCD_A","MCD_B","MCD_C","OGK","Proposed"], "range": [[1,0],[6,4],[1.5,3],[1.5,3,6,3],[1,0],[1.5,3,6,3],[1,0],[1,0],[1,0]]}, "legend": {"title": null, "orient": "none", "legendX": 6, "legendY": 294}},
    "order": [{"field": "fpr"}, {"field": "tpr"}]}}
 ]},
{"width": 282, "height": 230, "title": {"text": "(e)"},
 "encoding": {"x": {"field": "fpr", "type": "quantitative", "scale": {"domain": [-0.04, 1.04], "nice": false, "zero": false}, "axis": {"values": [0, 0.2, 0.4, 0.6, 0.8, 1], "format": ".1f", "title": "FPR"}}, "y": {"field": "tpr", "type": "quantitative", "scale": {"domain": [-0.04, 1.04], "nice": false, "zero": false}, "axis": {"values": [0, 0.2, 0.4, 0.6, 0.8, 1], "format": ".1f", "title": "TPR"}}},
 "layer": [
  {"data": {"name": "diag"}, "mark": {"type": "line", "color": "#d9d9d9", "strokeWidth": 0.8, "clip": true}},
  {"data": {"name": "e"}, "mark": {"type": "line", "strokeWidth": 1.4, "clip": true},
   "encoding": {
    "color": {"field": "method", "type": "nominal", "scale": {"domain": ["Classical","MVE","FSA","MCD","MCD_A","MCD_B","MCD_C","OGK","Proposed"], "range": ["#111111","#2aa84a","#3a3ad0","#55dddd","#d020d0","#e8e820","#bdbdbd","#1faa3a","#e0201e"]}, "legend": {"title": null, "orient": "none", "legendX": 6, "legendY": 294}},
    "strokeDash": {"field": "method", "type": "nominal", "scale": {"domain": ["Classical","MVE","FSA","MCD","MCD_A","MCD_B","MCD_C","OGK","Proposed"], "range": [[1,0],[6,4],[1.5,3],[1.5,3,6,3],[1,0],[1.5,3,6,3],[1,0],[1,0],[1,0]]}, "legend": {"title": null, "orient": "none", "legendX": 6, "legendY": 294}},
    "order": [{"field": "fpr"}, {"field": "tpr"}]}}
 ]},
{"width": 282, "height": 230, "title": {"text": "(f)"},
 "encoding": {"x": {"field": "fpr", "type": "quantitative", "scale": {"domain": [-0.04, 1.04], "nice": false, "zero": false}, "axis": {"values": [0, 0.2, 0.4, 0.6, 0.8, 1], "format": ".1f", "title": "FPR"}}, "y": {"field": "tpr", "type": "quantitative", "scale": {"domain": [-0.04, 1.04], "nice": false, "zero": false}, "axis": {"values": [0, 0.2, 0.4, 0.6, 0.8, 1], "format": ".1f", "title": "TPR"}}},
 "layer": [
  {"data": {"name": "diag"}, "mark": {"type": "line", "color": "#d9d9d9", "strokeWidth": 0.8, "clip": true}},
  {"data": {"name": "f"}, "mark": {"type": "line", "strokeWidth": 1.4, "clip": true},
   "encoding": {
    "color": {"field": "method", "type": "nominal", "scale": {"domain": ["Classical","MVE","FSA","MCD","MCD_A","MCD_B","MCD_C","OGK","Proposed"], "range": ["#111111","#2aa84a","#3a3ad0","#55dddd","#d020d0","#e8e820","#bdbdbd","#1faa3a","#e0201e"]}, "legend": {"title": null, "orient": "none", "legendX": 6, "legendY": 294}},
    "strokeDash": {"field": "method", "type": "nominal", "scale": {"domain": ["Classical","MVE","FSA","MCD","MCD_A","MCD_B","MCD_C","OGK","Proposed"], "range": [[1,0],[6,4],[1.5,3],[1.5,3,6,3],[1,0],[1.5,3,6,3],[1,0],[1,0],[1,0]]}, "legend": {"title": null, "orient": "none", "legendX": 6, "legendY": 294}},
    "order": [{"field": "fpr"}, {"field": "tpr"}]}}
 ]}
],
"config": {
 "font": "Times New Roman, Liberation Serif, serif",
 "view": {"stroke": "#999999", "strokeWidth": 1},
 "axis": {"domain": false, "grid": false, "ticks": true, "tickColor": "#8c8c8c", "tickSize": 6, "labelFont": "Times New Roman, Liberation Serif, serif", "labelFontSize": 15, "labelColor": "#1a1a1a", "labelFlush": false, "labelOverlap": false, "titleFont": "Times New Roman, Liberation Serif, serif", "titleFontSize": 15, "titleFontWeight": "normal", "titleColor": "#1a1a1a"},
 "axisX": {"labelPadding": 5, "titlePadding": 8},
 "axisY": {"labelPadding": 3, "titlePadding": 11},
 "legend": {"columns": 2, "columnPadding": 86, "rowPadding": 4, "symbolType": "M-1.8,0H1.8", "symbolSize": 225, "symbolStrokeWidth": 1.5, "labelFont": "Times New Roman, Liberation Serif, serif", "labelFontSize": 15, "labelColor": "#1a1a1a", "labelOffset": 14, "symbolOpacity": 1},
 "title": {"orient": "bottom", "anchor": "middle", "font": "Times New Roman, Liberation Serif, serif", "fontSize": 15, "fontWeight": "normal", "color": "#1a1a1a", "offset": 14, "dx": -27}
}
}
